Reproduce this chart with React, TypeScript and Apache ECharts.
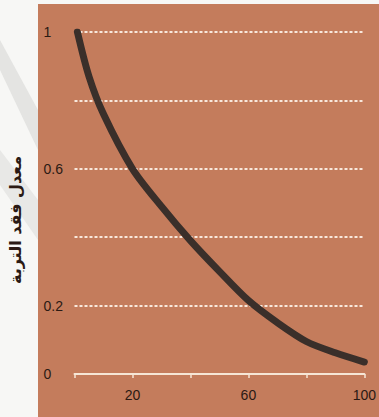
import React, { useEffect, useRef } from "react";
import * as echarts from "echarts";

const xValues = [1, 5, 10, 20, 30, 40, 50, 60, 70, 80, 90, 100];
const yValues = [1.0, 0.87, 0.76, 0.6, 0.49, 0.39, 0.3, 0.215, 0.15, 0.095, 0.062, 0.035];
const yTickLabels = ["0", "0.2", "0.6", "1"];
const xTickLabels = ["20", "60", "100"];
const yTitle = "معدل فقد التربة";

export default function App() {
  const ref = useRef<HTMLDivElement>(null);
  useEffect(() => {
    if (!ref.current) return;
    const chart = echarts.init(ref.current, null, { renderer: "svg" });
    const labelColor = "#2b1a14";
    chart.setOption({
      animation: false,
      backgroundColor: "#f7f7f5",
      graphic: [
        {
          type: "polygon",
          z: -100,
          shape: { points: [[0, 40], [0, 70], [38, 150], [38, 110]] },
          style: { fill: "#e4e4e2" },
        },
        {
          type: "polygon",
          z: -100,
          shape: { points: [[0, 150], [0, 185], [38, 240], [38, 200]] },
          style: { fill: "#e8e8e6" },
        },
        {
          type: "rect",
          z: -90,
          shape: { x: 38, y: 4, width: 341, height: 413 },
          style: { fill: "#c47c5c" },
        },
        {
          type: "text",
          x: 15,
          y: 220,
          rotation: Math.PI / 2,
          style: {
            text: yTitle,
            fill: labelColor,
            font: "bold 16px 'DejaVu Sans', sans-serif",
            align: "center",
            verticalAlign: "middle",
          },
        },
      ],
      grid: { left: 74.5, right: 12, top: 32, bottom: 43 },
      xAxis: {
        type: "value",
        min: 0,
        max: 100,
        interval: 20,
        axisLine: { show: true, lineStyle: { color: "#f6e6d6", width: 2 } },
        axisTick: { show: true, length: 4, lineStyle: { color: "#f6e6d6", width: 1.5 } },
        splitLine: { show: false },
        axisLabel: {
          margin: 14,
          color: labelColor,
          fontSize: 14,
          fontFamily: "Liberation Sans, Arial, sans-serif",
          formatter: (v: number) => (xTickLabels.includes(String(v)) ? String(v) : ""),
        },
      },
      yAxis: {
        type: "value",
        min: 0,
        max: 1,
        interval: 0.2,
        axisLine: { show: false },
        axisTick: { show: false },
        splitLine: {
          show: true,
          lineStyle: { color: "#f8e8dc", width: 2, type: [3, 2] },
        },
        axisLabel: {
          margin: 31,
          align: "left",
          color: labelColor,
          fontSize: 14,
          fontFamily: "Liberation Sans, Arial, sans-serif",
          formatter: (v: number) => {
            const s = String(Math.round(v * 10) / 10);
            return yTickLabels.includes(s) ? s : "";
          },
        },
      },
      series: [
        {
          type: "line",
          smooth: 0.3,
          symbol: "none",
          data: xValues.map((x, i) => [x, yValues[i]]),
          lineStyle: { color: "#3a2f2a", width: 7, cap: "round" },
          z: 5,
        },
      ],
    });
    return () => chart.dispose();
  }, []);
  return (
    <div
      ref={ref}
      style={{ position: "fixed", left: 0, top: 0, width: 379, height: 417 }}
    />
  );
}
